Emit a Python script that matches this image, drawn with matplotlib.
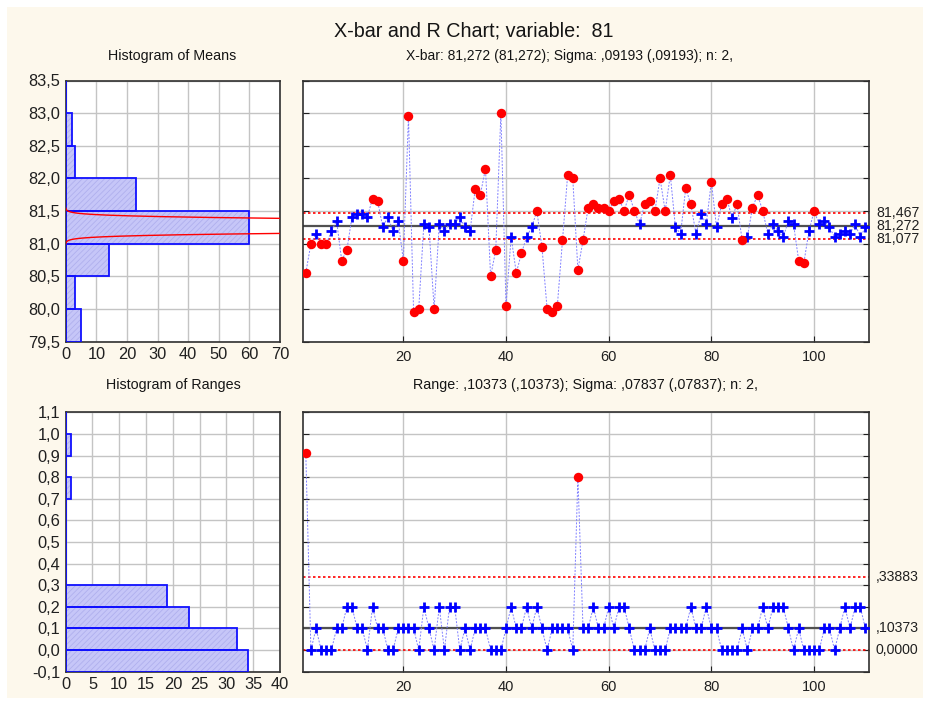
import numpy as np
import matplotlib
matplotlib.use('Agg')
import matplotlib.pyplot as plt
import matplotlib.patches as patches
from matplotlib.ticker import FuncFormatter, MultipleLocator

plt.rcParams['font.family'] = ['Liberation Sans', 'DejaVu Sans']
plt.rcParams['hatch.linewidth'] = 0.6

# sample means (n = 2)
xbar_means = [
    80.55, 81.0, 81.15, 81.0, 81.0, 81.19, 81.35, 80.74, 80.9, 81.41,
    81.46, 81.46, 81.41, 81.69, 81.65, 81.25, 81.41, 81.19, 81.35, 80.74,
    82.95, 79.95, 80.0, 81.3, 81.25, 80.0, 81.3, 81.19, 81.3, 81.3,
    81.41, 81.25, 81.19, 81.84, 81.75, 82.15, 80.5, 80.9, 83.0, 80.05,
    81.1, 80.55, 80.85, 81.1, 81.25, 81.5, 80.95, 80.0, 79.95, 80.05,
    81.05, 82.05, 82.0, 80.6, 81.05, 81.55, 81.6, 81.55, 81.55, 81.5,
    81.65, 81.69, 81.5, 81.75, 81.5, 81.3, 81.6, 81.65, 81.5, 82.0,
    81.5, 82.05, 81.25, 81.15, 81.85, 81.6, 81.15, 81.45, 81.3, 81.95,
    81.25, 81.6, 81.69, 81.4, 81.6, 81.05, 81.1, 81.55, 81.75, 81.5,
    81.15, 81.3, 81.19, 81.1, 81.35, 81.3, 80.74, 80.7, 81.19, 81.5,
    81.3, 81.35, 81.25, 81.1, 81.15, 81.19, 81.15, 81.3, 81.1, 81.25]

# sample ranges
ranges = [
    0.91, 0, 0.1, 0, 0, 0, 0.1, 0.1, 0.2, 0.2,
    0.1, 0.1, 0, 0.2, 0.1, 0.1, 0, 0, 0.1, 0.1,
    0.1, 0.1, 0, 0.2, 0.1, 0, 0.2, 0, 0.2, 0.2,
    0, 0.1, 0, 0.1, 0.1, 0.1, 0, 0, 0, 0.1,
    0.2, 0.1, 0.1, 0.2, 0.1, 0.2, 0.1, 0, 0.1, 0.1,
    0.1, 0.1, 0, 0.8, 0.1, 0.1, 0.2, 0.1, 0.1, 0.2,
    0.1, 0.2, 0.2, 0.1, 0, 0, 0, 0.1, 0, 0,
    0, 0.1, 0.1, 0.1, 0.1, 0.2, 0.1, 0.1, 0.2, 0.1,
    0.1, 0, 0, 0, 0, 0.1, 0, 0.1, 0.1, 0.2,
    0.1, 0.2, 0.2, 0.2, 0.1, 0, 0.1, 0, 0, 0,
    0, 0.1, 0.1, 0, 0.1, 0.2, 0.1, 0.2, 0.2, 0.1]

# control limits
xbar_center, xbar_ucl, xbar_lcl = 81.272, 81.467, 81.077
xbar_sigma = 0.09193
r_center, r_ucl, r_lcl = 0.10373, 0.33883, 0.0
n_per_sample = 2

# histograms as shown
mean_bins = [79.5, 80.0, 80.5, 81.0, 81.5, 82.0, 82.5, 83.0]
mean_counts = [5, 3, 14, 60, 23, 3, 2, 0]
range_bins = [-0.1, 0.0, 0.1, 0.2, 0.3, 0.4, 0.5, 0.6, 0.7, 0.8, 0.9, 1.0]
range_counts = [34, 32, 23, 19, 0, 0, 0, 0, 1, 0, 1, 0]

W, H = 930, 705
fig = plt.figure(figsize=(W / 100, H / 100), dpi=100, facecolor='white')
fig.patches.append(patches.Rectangle((7 / W, 7 / H), 916 / W, 691 / H, transform=fig.transFigure,
                                     facecolor='#fdf8ec', edgecolor='none', zorder=-10))

def box(l, t, r, b):
    return [l / W, 1 - b / H, (r - l) / W, (b - t) / H]

ax_hm = fig.add_axes(box(65.7, 80.5, 280, 341.5))
ax_xb = fig.add_axes(box(302.7, 80.5, 869, 341.5))
ax_hr = fig.add_axes(box(65.7, 412.3, 280, 671.7))
ax_r = fig.add_axes(box(302.7, 412.3, 869, 671.7))

comma1 = FuncFormatter(lambda v, p: ('%.1f' % v).replace('.', ','))
grid_kw = dict(color='#c4c4c4', lw=1.0)

for ax in (ax_hm, ax_xb, ax_hr, ax_r):
    ax.set_facecolor('white')
    for s in ax.spines.values():
        s.set_color('#303030')
        s.set_linewidth(1.2)
    ax.grid(True, **grid_kw)
    ax.set_axisbelow(True)
    ax.tick_params(direction='in', length=4, labelsize=10.5, colors='#202020', pad=6)

def hist(ax, bins, counts, h):
    ax.barh(bins, counts, height=h, align='edge', color='#c6c6f8', lw=0, zorder=2)
    ax.barh(bins, counts, height=h, align='edge', color='none',
            edgecolor='#b0b0ee', hatch='//////', lw=0, zorder=2)
    ax.barh(bins, counts, height=h, align='edge', color='none',
            edgecolor='#1010ff', lw=1.3, zorder=3)
    ax.tick_params(length=0, labelsize=11.8, pad=4)

# histogram of means with fitted normal curve
hist(ax_hm, mean_bins, mean_counts, 0.5)
yy = np.linspace(79.5, 83.5, 4000)
s_mean = xbar_sigma / np.sqrt(n_per_sample)
curve = len(xbar_means) * 0.5 * np.exp(-0.5 * ((yy - xbar_center) / s_mean) ** 2) / (s_mean * np.sqrt(2 * np.pi))
curve[curve < 0.05] = np.nan
ax_hm.plot(curve, yy, color='red', lw=1.0, zorder=4)
ax_hm.set_xlim(0, 70)
ax_hm.set_ylim(79.5, 83.5)
ax_hm.xaxis.set_major_locator(MultipleLocator(10))
ax_hm.yaxis.set_major_locator(MultipleLocator(0.5))
ax_hm.yaxis.set_major_formatter(comma1)

# histogram of ranges
hist(ax_hr, range_bins, range_counts, 0.1)
ax_hr.set_xlim(0, 40)
ax_hr.set_ylim(-0.1, 1.1)
ax_hr.xaxis.set_major_locator(MultipleLocator(5))
ax_hr.yaxis.set_major_locator(MultipleLocator(0.1))
ax_hr.yaxis.set_major_formatter(comma1)

def control_chart(ax, vals, center, ucl, lcl):
    x = np.arange(1, len(vals) + 1)
    v = np.array(vals)
    ax.plot(x, v, color='#8080ff', lw=0.7, ls=(0, (2, 1.5)), zorder=3)
    ax.axhline(center, color='#505050', lw=1.6, zorder=2)
    ax.axhline(ucl, color='red', lw=1.2, ls=(0, (1.5, 1.5)), zorder=2)
    ax.axhline(lcl, color='red', lw=1.2, ls=(0, (1.5, 1.5)), zorder=2)
    out = (v > ucl) | (v < lcl)
    ax.plot(x[~out], v[~out], ls='none', marker='+', ms=7, mew=2.0, color='#0000ff', zorder=4)
    ax.plot(x[out], v[out], ls='none', marker='o', ms=6.8, mew=0, color='#ff0000', zorder=5)
    ax.set_xlim(0.4, 110.7)
    ax.set_xticks([20, 40, 60, 80, 100])
    ax.tick_params(left=True, right=True, labelleft=False)

control_chart(ax_xb, xbar_means, xbar_center, xbar_ucl, xbar_lcl)
ax_xb.set_ylim(79.5, 83.5)
ax_xb.yaxis.set_major_locator(MultipleLocator(0.5))

control_chart(ax_r, ranges, r_center, r_ucl, r_lcl)
ax_r.set_ylim(-0.1, 1.1)
ax_r.yaxis.set_major_locator(MultipleLocator(0.1))

# limit labels on the right
for val, txt in [(xbar_ucl, '81,467'), (xbar_center, '81,272'), (xbar_lcl, '81,077')]:
    ax_xb.annotate(txt, xy=(1, val), xycoords=('axes fraction', 'data'), xytext=(5, 0),
                   textcoords='offset points', va='center', ha='left', fontsize=10.2, color='#202020')
for val, txt in [(r_ucl, ',33883'), (r_center, ',10373'), (r_lcl, '0,0000')]:
    ax_r.annotate(txt, xy=(1, val), xycoords=('axes fraction', 'data'), xytext=(5, 0),
                  textcoords='offset points', va='center', ha='left', fontsize=10.2, color='#202020')

fig.text(474 / W, 1 - 31 / H, 'X-bar and R Chart; variable:  81', ha='center', va='center', fontsize=14.2, color='#151515')
fig.text(172.5 / W, 1 - 56 / H, 'Histogram of Means', ha='center', va='center', fontsize=10.3, color='#151515')
fig.text(569 / W, 1 - 56 / H, 'X-bar: 81,272 (81,272); Sigma: ,09193 (,09193); n: 2,', ha='center', va='center', fontsize=10, color='#151515')
fig.text(173 / W, 1 - 385 / H, 'Histogram of Ranges', ha='center', va='center', fontsize=10.3, color='#151515')
fig.text(585 / W, 1 - 385 / H, 'Range: ,10373 (,10373); Sigma: ,07837 (,07837); n: 2,', ha='center', va='center', fontsize=10.3, color='#151515')

fig.savefig('out.png', dpi=100, facecolor=fig.get_facecolor())
